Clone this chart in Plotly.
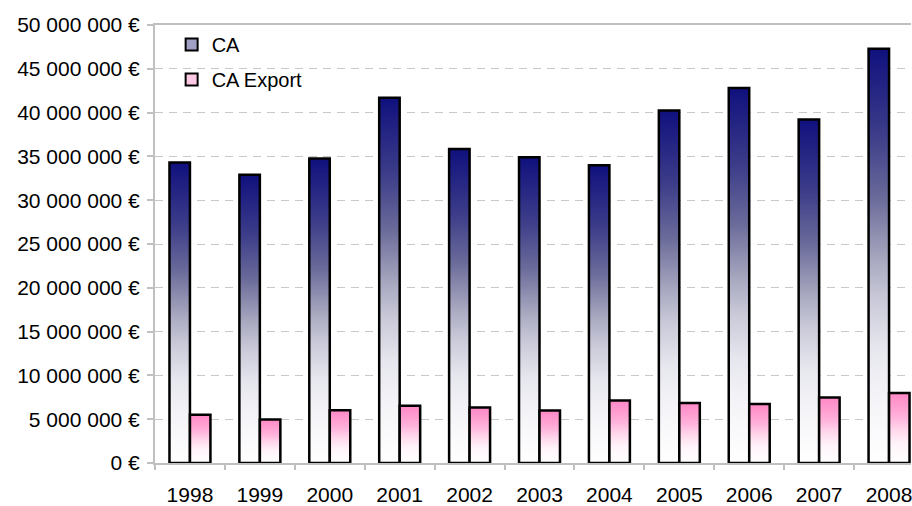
import plotly.graph_objects as go

years = ['1998', '1999', '2000', '2001', '2002', '2003', '2004', '2005', '2006', '2007', '2008']
ca = [34.30e6, 32.90e6, 34.75e6, 41.70e6, 35.85e6, 34.90e6, 34.00e6, 40.25e6, 42.80e6, 39.20e6, 47.30e6]
ca_export = [5.50e6, 4.97e6, 6.02e6, 6.53e6, 6.33e6, 5.99e6, 7.13e6, 6.86e6, 6.74e6, 7.47e6, 7.99e6]

y_tick_values = [0, 5e6, 10e6, 15e6, 20e6, 25e6, 30e6, 35e6, 40e6, 45e6, 50e6]
y_tick_labels = ['0 €', '5 000 000 €', '10 000 000 €', '15 000 000 €', '20 000 000 €',
                 '25 000 000 €', '30 000 000 €', '35 000 000 €', '40 000 000 €',
                 '45 000 000 €', '50 000 000 €']

ca_scale = [[0, 'rgb(255,255,255)'], [0.16, 'rgb(244,244,248)'], [0.28, 'rgb(230,230,238)'],
            [0.40, 'rgb(200,200,216)'], [0.49, 'rgb(168,168,192)'], [0.64, 'rgb(106,106,154)'],
            [0.79, 'rgb(61,61,138)'], [1, 'rgb(16,16,126)']]
exp_scale = [[0, 'rgb(255,255,255)'], [0.28, 'rgb(255,243,249)'], [0.49, 'rgb(255,212,234)'],
             [0.64, 'rgb(255,181,220)'], [0.79, 'rgb(255,160,209)'], [1, 'rgb(255,136,198)']]

W = 0.293  # bar width in category units

fig = go.Figure()

def add_bar(xc_left, value, scale, name):
    fig.add_trace(go.Scatter(
        x=[xc_left, xc_left, xc_left + W, xc_left + W, xc_left],
        y=[0, value, value, 0, 0],
        mode='lines', fill='toself',
        fillgradient=dict(type='vertical', colorscale=scale),
        line=dict(color='black', width=2.5),
        showlegend=False, name=name,
        hoveron='fills', hoverinfo='name+text',
        text=f'{value:,.0f} €'.replace(',', ' '),
    ))

for i, (v1, v2) in enumerate(zip(ca, ca_export)):
    add_bar(i - W, v1, ca_scale, 'CA')
    add_bar(i, v2, exp_scale, 'CA Export')

# legend entries
fig.add_trace(go.Bar(x=[None], y=[None], name='CA', legendgroup='a',
                     marker=dict(color='rgb(160,160,196)', line=dict(color='black', width=2))))
fig.add_trace(go.Bar(x=[None], y=[None], name='CA Export', legendgroup='b',
                     marker=dict(color='rgb(255,200,228)', line=dict(color='black', width=2))))

fig.update_layout(
    width=912, height=506,
    margin=dict(l=155, r=0, t=25, b=41),
    paper_bgcolor='white', plot_bgcolor='white',
    font=dict(family='Liberation Sans, Arial, sans-serif', size=21, color='black'),
    showlegend=True,
    legend=dict(x=0.022, y=1.0, xanchor='left', yanchor='top',
                bgcolor='rgba(0,0,0,0)', font=dict(size=20),
                traceorder='grouped', tracegroupgap=6),
    xaxis=dict(
        range=[-0.5, 10.314],
        tickmode='array', tickvals=list(range(len(years))), ticktext=years,
        ticks='', showgrid=False, zeroline=False,
        showline=True, linecolor='#c0c0c0', linewidth=2, mirror=True,
        ticklabelstandoff=12, ticklabeloverflow='allow',
        minor=dict(ticks='outside', tick0=0.5, dtick=1, ticklen=5,
                   tickcolor='#c0c0c0', tickwidth=1.5, showgrid=False),
    ),
    yaxis=dict(
        range=[0, 50e6],
        tickmode='array', tickvals=y_tick_values, ticktext=y_tick_labels,
        ticks='outside', ticklen=6, tickcolor='#c0c0c0', tickwidth=1.5,
        showline=True, linecolor='#c0c0c0', linewidth=2,
        showgrid=True, gridcolor='#c8c8c8', gridwidth=1, griddash='8px,6px',
        zeroline=False, ticklabelstandoff=3,
    ),
)

fig.write_html('out.html', config={'displayModeBar': False},
               post_script="document.body.style.margin='0px';")
